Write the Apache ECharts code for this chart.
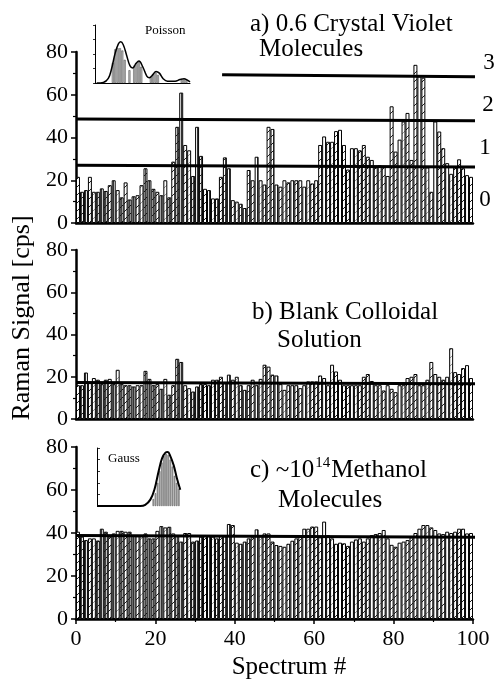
<!DOCTYPE html>
<html><head><meta charset="utf-8">
<script src="https://cdn.jsdelivr.net/npm/echarts@6/dist/echarts.min.js"></script>
<style>html,body{margin:0;padding:0;background:#fff}#c{width:496px;height:681px}</style>
</head><body><div id="c"></div>
<script>
// ---------------- data ----------------
const spectrumNumbers = Array.from({length: 100}, (_, i) => String(i + 1)); // category labels 1..100
const xTickValues = [0, 20, 40, 60, 80, 100];
const yTickValues = [0, 20, 40, 60, 80];

const signalA = [21.6,14.6,15.4,21.6,14.6,14.6,16.2,15,17.7,20,
  15.4,12,19,11,12.5,13,17.7,25.6,20,16,
  14.6,13,20,12,28.7,45,61,36.5,34,22,
  45,31.4,16,15.4,11.5,11.5,21.6,30.7,25.6,10.7,
  10,9,7,24.8,20,31,20,18,45,44,
  18,17,20,19,20,20,20,17,20,18.5,
  20,36.5,40.5,38,38,43,43.6,36.5,25,35,
  35,34,36.5,31,29.5,26,27,26.7,22,54.6,
  33.4,39,47.5,51.5,29.5,74,68.7,68,26,14.6,
  47.5,42.8,35,28,23,26,29.8,25.6,22.4,21.6];

const signalB = [16,16,22,17,19.4,18.6,16.5,18.6,19,16.5,
  23.3,16.5,16,16,15.4,16,16,22.8,19,16,
  16.5,14.3,19,11.5,16,28.5,27,16,14.6,13,
  15.4,16.5,16.5,16,18.6,18.6,20,17,21,18.6,
  20,16,13.8,16,18.6,16,19,25.7,24.8,21,
  20.6,16.5,13.8,16,16,16,14.6,16,17.8,17.8,
  17.8,20.6,19.4,16,25.7,22.5,18.6,16,16,16,
  16,16,20,21.3,18,16,16,13.5,16,14.3,
  12.7,16,16,19.4,20,21.3,16,16,18.6,27,
  21.3,20,18.6,20,33.5,22.2,21.3,24.1,25.5,19.4];

const signalC = [40.6,38.3,36.7,37.5,37.5,36.5,42,40.6,38.3,39.8,
  41,41,40.6,40.6,39,38.5,38.5,39.8,37.5,37.5,
  41,43.2,42.6,42.9,39.8,39,36,40,40,36,
  36.5,38.3,38.6,38.6,38.3,37.5,39,38.5,44.2,43.7,
  35.5,35,36,37.5,38,41.7,39,39.8,39.8,36,
  34.4,34,33.6,35,36.4,37.5,39,42,42,43,
  43,38,45.3,39,37.5,35,35.5,35.2,34,36,
  37,37.5,36,37.5,39,39.5,40,41.4,37.5,34.5,
  33.6,35.5,36,36.7,38,40,42,43.7,43.7,42.6,
  41.4,39.8,39.5,40.6,40,40.6,42,42,39.8,40];

// level lines: [startX, startY, endX, endY]
const levelA0 = [0, 27.0, 100.5, 26.2];
const levelA1 = [0, 48.6, 100.5, 47.8];
const levelA2 = [36.8, 69.4, 100.5, 68.4];
const levelB = [0, 17.3, 100.5, 16.7];
const levelC = [0, 38.8, 100.5, 38.0];
const levelLabelsA = ['0', '1', '2', '3'];

// Poisson inset
const poissonCurveX = [0.7,3.5,5.6,7,8.4,9.8,10.8,11.9,13.3,14.7,15.9,17.3,18.5,20.1,21.8,22.9,24.3,25.7,27.1,28.8,30.5,33.7,35.8,37.5,38.9,40];
const poissonCurveY = [0,1,8,25,50,67,71,66,48,30,26,34,38,28,12,9,14,20,17,7,3,3,6,7.5,5,2];
const poissonBarX = [7.5,8.5,9.5,10.5,11.5,12.5,14.5,16.5,17.5,18.5,19.5,23.5,24.5,25.5,26.5,36.5,37.5,38.5];
const poissonBarY = [35,58,60,60,56,40,22,30,34,36,28,12,16,18,14,5,6,5];

// Gauss inset
const gaussCurveX = [0,20.4,22.7,25.1,27,29,30.6,32.2,33.3,34.5,36.1,37.6,39.2];
const gaussCurveY = [0,0,2,11,28,60,82,92,93,86,70,48,28];
const gaussBarX = [26.5,27.5,28.5,29.5,30.5,31.5,32.5,33.5,34.5,35.5,36.5,37.5,38.5];
const gaussBarY = [12,22,40,60,75,86,90,88,80,68,52,40,30];

// ---------------- styling helpers ----------------
const FONT = '"Liberation Serif", "Times New Roman", serif';

function makePattern(kind) {
  const c = document.createElement('canvas');
  c.width = 8; c.height = 8;
  const g = c.getContext('2d');
  g.fillStyle = '#fff'; g.fillRect(0, 0, 8, 8);
  g.lineWidth = 1;
  const diag = (col) => {
    g.strokeStyle = col; g.beginPath();
    g.moveTo(-2, 10); g.lineTo(10, -2);
    g.moveTo(-6, 6); g.lineTo(6, -6);
    g.moveTo(2, 14); g.lineTo(14, 2);
    g.stroke();
  };
  const vert = (col) => {
    g.strokeStyle = col; g.beginPath();
    g.moveTo(1.5, 0); g.lineTo(1.5, 8);
    g.moveTo(5.5, 0); g.lineTo(5.5, 8);
    g.stroke();
  };
  if (kind === 'diag') diag('#222');
  else if (kind === 'vert') vert('#333');
  else if (kind === 'cross') { vert('#444'); diag('#222'); }
  else diag('#999');
  return { image: c, repeat: 'repeat' };
}
const patterns = ['diag', 'vert', 'cross', 'light'].map(makePattern);
const patternOrder = [0, 2, 1, 0, 3, 2, 1, 2, 0, 1, 3, 2];

function barData(values) {
  return values.map((v, i) => ({
    value: v,
    itemStyle: { color: patterns[patternOrder[i % patternOrder.length]] }
  }));
}

const grids = [
  { left: 76, right: 23, top: 52, height: 171 },
  { left: 76, right: 23, top: 250, height: 169 },
  { left: 76, right: 23, top: 447, height: 172 },
  { left: 95, top: 25, width: 95, height: 58 },
  { left: 97, top: 448, width: 85, height: 58 }
].map(g => Object.assign({ outerBoundsMode: 'none', containLabel: false }, g));

const xAxis = [];
const yAxis = [];
for (let p = 0; p < 3; p++) {
  xAxis.push({ type: 'category', gridIndex: p, data: spectrumNumbers, show: false, boundaryGap: true, position: 'bottom' });
  const isBottom = p === 2;
  xAxis.push({
    type: 'value', gridIndex: p, min: xTickValues[0], max: xTickValues[xTickValues.length - 1], interval: 20, position: 'bottom',
    axisLine: { show: true, lineStyle: { color: '#000', width: 2.5 } },
    axisTick: { show: isBottom, length: 5, lineStyle: { color: '#000', width: 1.5 } },
    minorTick: { show: isBottom, splitNumber: 2, length: 3, lineStyle: { color: '#000', width: 1.2 } },
    axisLabel: { show: isBottom, color: '#000', fontSize: 22, fontFamily: FONT, margin: 9 },
    splitLine: { show: false }
  });
  yAxis.push({
    type: 'value', gridIndex: p, min: yTickValues[0], max: yTickValues[yTickValues.length - 1], interval: 20,
    axisLine: { show: true, lineStyle: { color: '#000', width: 2.5 } },
    axisTick: { show: true, length: 5, lineStyle: { color: '#000', width: 1.5 } },
    minorTick: { show: true, splitNumber: 2, length: 3, lineStyle: { color: '#000', width: 1.2 } },
    axisLabel: { color: '#000', fontSize: 22, fontFamily: FONT, margin: 8 },
    splitLine: { show: false }
  });
}
// insets
xAxis.push({ type: 'value', gridIndex: 3, min: 0, max: 40, show: true,
  axisLine: { show: true, onZero: false, lineStyle: { color: '#000', width: 1 } },
  axisTick: { show: false }, axisLabel: { show: false }, splitLine: { show: false } });
yAxis.push({ type: 'value', gridIndex: 3, min: 0, max: 100, interval: 25,
  axisLine: { show: true, lineStyle: { color: '#000', width: 1 } },
  axisTick: { show: true, length: 2, lineStyle: { color: '#000', width: 0.8 } },
  axisLabel: { show: false }, splitLine: { show: false } });
xAxis.push({ type: 'value', gridIndex: 4, min: 0, max: 40, show: true,
  axisLine: { show: false }, axisTick: { show: false }, axisLabel: { show: false }, splitLine: { show: false } });
yAxis.push({ type: 'value', gridIndex: 4, min: 0, max: 100, interval: 20,
  axisLine: { show: true, lineStyle: { color: '#000', width: 1 } },
  axisTick: { show: true, inside: true, length: 3, lineStyle: { color: '#000', width: 0.8 } },
  axisLabel: { show: false }, splitLine: { show: false } });

function levelSeries(l, xi, yi) {
  return { type: 'line', xAxisIndex: xi, yAxisIndex: yi, data: [[l[0], l[1]], [l[2], l[3]]],
    showSymbol: false, clip: false, z: 5, silent: true,
    lineStyle: { color: '#000', width: 3 } };
}
function barSeries(values, xi, yi) {
  return { type: 'bar', xAxisIndex: xi, yAxisIndex: yi, data: barData(values),
    barWidth: '100%', barGap: '0%', barCategoryGap: '0%', z: 2, silent: true,
    itemStyle: { borderColor: '#000', borderWidth: 1 } };
}
const zip = (a, b) => a.map((v, i) => [v, b[i]]);

const series = [
  barSeries(signalA, 0, 0),
  levelSeries(levelA0, 1, 0), levelSeries(levelA1, 1, 0), levelSeries(levelA2, 1, 0),
  barSeries(signalB, 2, 1),
  levelSeries(levelB, 3, 1),
  barSeries(signalC, 4, 2),
  levelSeries(levelC, 5, 2),
  { type: 'bar', xAxisIndex: 6, yAxisIndex: 3, data: zip(poissonBarX, poissonBarY), barWidth: 2, silent: true,
    itemStyle: { color: '#bbb', borderColor: '#444', borderWidth: 0.5 } },
  { type: 'line', xAxisIndex: 6, yAxisIndex: 3, data: zip(poissonCurveX, poissonCurveY), smooth: 0.4, showSymbol: false, silent: true,
    lineStyle: { color: '#000', width: 1.5 } },
  { type: 'bar', xAxisIndex: 7, yAxisIndex: 4, data: zip(gaussBarX, gaussBarY), barWidth: 1.5, silent: true,
    itemStyle: { color: '#bbb', borderColor: '#444', borderWidth: 0.5 } },
  { type: 'line', xAxisIndex: 7, yAxisIndex: 4, data: zip(gaussCurveX, gaussCurveY), smooth: 0.4, showSymbol: false, silent: true,
    lineStyle: { color: '#000', width: 2 } }
];

// text measurement for the superscript title
const mctx = document.createElement('canvas').getContext('2d');
function tw(text, size) { mctx.font = size + 'px ' + FONT; return mctx.measureText(text).width; }

function txt(text, x, y, size, align, extra) {
  return Object.assign({ type: 'text', x: x, y: y, z: 100,
    style: { text: text, font: size + 'px ' + FONT, fill: '#000', align: align || 'left', verticalAlign: 'middle' } }, extra || {});
}
const cPart1 = 'c) ~10', cSup = '14', cPart2 = 'Methanol';
const cX1 = 250 + tw(cPart1, 25) + 1;
const cX2 = cX1 + tw(cSup, 15) + 1;

const graphic = [
  txt('a) 0.6 Crystal Violet', 250, 24, 25),
  txt('Molecules', 259, 49, 25),
  txt('b) Blank Colloidal', 252, 312, 25),
  txt('Solution', 277, 340, 25),
  txt(cPart1, 250, 470, 25),
  txt(cSup, cX1, 463, 15),
  txt(cPart2, cX2, 470, 25),
  txt('Molecules', 278, 500, 25),
  txt(levelLabelsA[3], 489, 63, 23, 'center'),
  txt(levelLabelsA[2], 488, 105, 23, 'center'),
  txt(levelLabelsA[1], 485, 148, 23, 'center'),
  txt(levelLabelsA[0], 485, 200, 23, 'center'),
  txt('Poisson', 145, 31, 13),
  txt('Gauss', 108, 459, 13),
  txt('Spectrum #', 289, 667, 25, 'center'),
  txt('Raman Signal [cps]', 22, 318, 26, 'center', { rotation: Math.PI / 2 })
];

const chart = echarts.init(document.getElementById('c'), null, { renderer: 'canvas' });
chart.setOption({
  animation: false,
  backgroundColor: '#fff',
  grid: grids,
  xAxis: xAxis,
  yAxis: yAxis,
  series: series,
  graphic: graphic
});
</script>
</body></html>
